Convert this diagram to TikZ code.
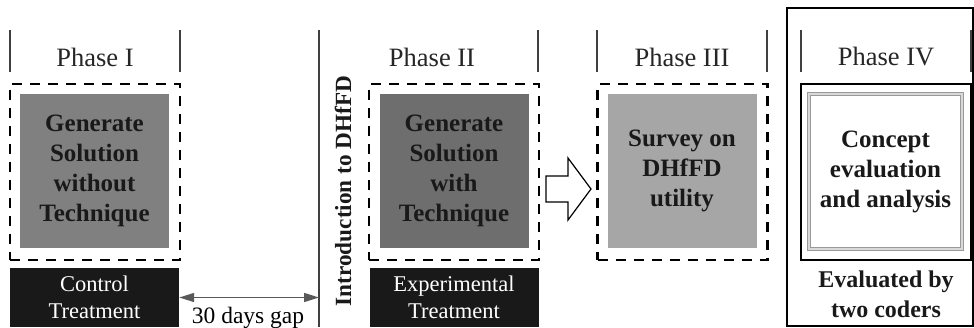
\documentclass[tikz,border=0pt]{standalone}
\usepackage{fontspec}
\setmainfont{Liberation Serif}
\usetikzlibrary{arrows.meta}

\tikzset{
  phase/.style={font=\fontsize{26.5}{30}\selectfont, text=black!85},
  frame/.style={draw, dash pattern=on 10pt off 8pt, line width=2.2pt,
    minimum width=170pt, minimum height=176pt, inner sep=0pt},
  task/.style={align=center, font=\bfseries\fontsize{25}{30}\selectfont,
    text=black!90, minimum width=149pt, minimum height=154pt, inner sep=0pt},
  treat/.style={fill=black!90, text=white, align=center,
    font=\fontsize{22.5}{27}\selectfont, minimum width=169pt, minimum height=59pt, inner sep=0pt},
  sep/.style={line width=1.1pt, black!75},
}

\begin{document}
\begin{tikzpicture}[x=1pt, y=-1pt]
  \useasboundingbox (0,0) rectangle (974,327);

  % phase headers
  \node[phase] (ph1) at (95,57) {Phase I};
  \node[phase] (ph2) at (432,57) {Phase II};
  \node[phase] (ph3) at (682,57) {Phase III};
  \node[phase] (ph4) at (886,57) {Phase IV};
  \foreach \x in {10,180,538,597,767,801,971}
    \draw[sep] (\x,30) -- (\x,72);
  \draw[sep] (319,30) -- (319,327);

  % phase I
  \node[frame] (fr1) at (95,172) {};
  \node[task, fill=black!50] (gen1) at (94.5,171) {Generate\\Solution\\without\\Technique};
  \node[treat] (ctrl) at (94.5,297.5) {Control\\Treatment};

  % gap
  \coordinate (gapend) at (319,297.5);
  \draw[{Triangle[length=15pt,width=9pt]}-{Triangle[length=15pt,width=9pt]}, line width=1.5pt, black!65]
    (ctrl.east) -- (gapend);
  \node[font=\fontsize{23.5}{27}\selectfont] (gap) at (248,318) {30 days gap};

  % introduction
  \node[rotate=90, font=\bfseries\fontsize{23.2}{27}\selectfont, text=black!90] (intro) at (343,191) {Introduction to DHfFD};

  % phase II
  \node[frame] (fr2) at (454,172) {};
  \node[task, fill=black!57] (gen2) at (454,171) {Generate\\Solution\\with\\Technique};
  \node[treat] (expt) at (454,297.5) {Experimental\\Treatment};

  % block arrow
  \draw[line width=1.2pt, fill=white] (546,176) -- (568,176) -- (568,158) -- (591,189)
    -- (568,220) -- (568,202) -- (546,202) -- cycle;

  % phase III
  \node[frame] (fr3) at (682.5,172) {};
  \node[task, fill=black!35] (surv) at (682,171) {Survey on\\DHfFD\\utility};

  % phase IV
  \draw[line width=1.8pt] (787,8) rectangle (973,326);
  \node[draw, line width=1.8pt, minimum width=170pt, minimum height=176pt, inner sep=0pt] (fr4) at (886,172) {};
  \node[task, draw=black!40, double=black!15, double distance=1.5pt, line width=1.2pt,
    minimum width=153pt, minimum height=155pt] (eval) at (885.5,171.5) {Concept\\evaluation\\and analysis};
  \node[align=center, font=\bfseries\fontsize{24}{30}\selectfont, text=black!90] (coders) at (886,294) {Evaluated by\\two coders};
\end{tikzpicture}
\end{document}
